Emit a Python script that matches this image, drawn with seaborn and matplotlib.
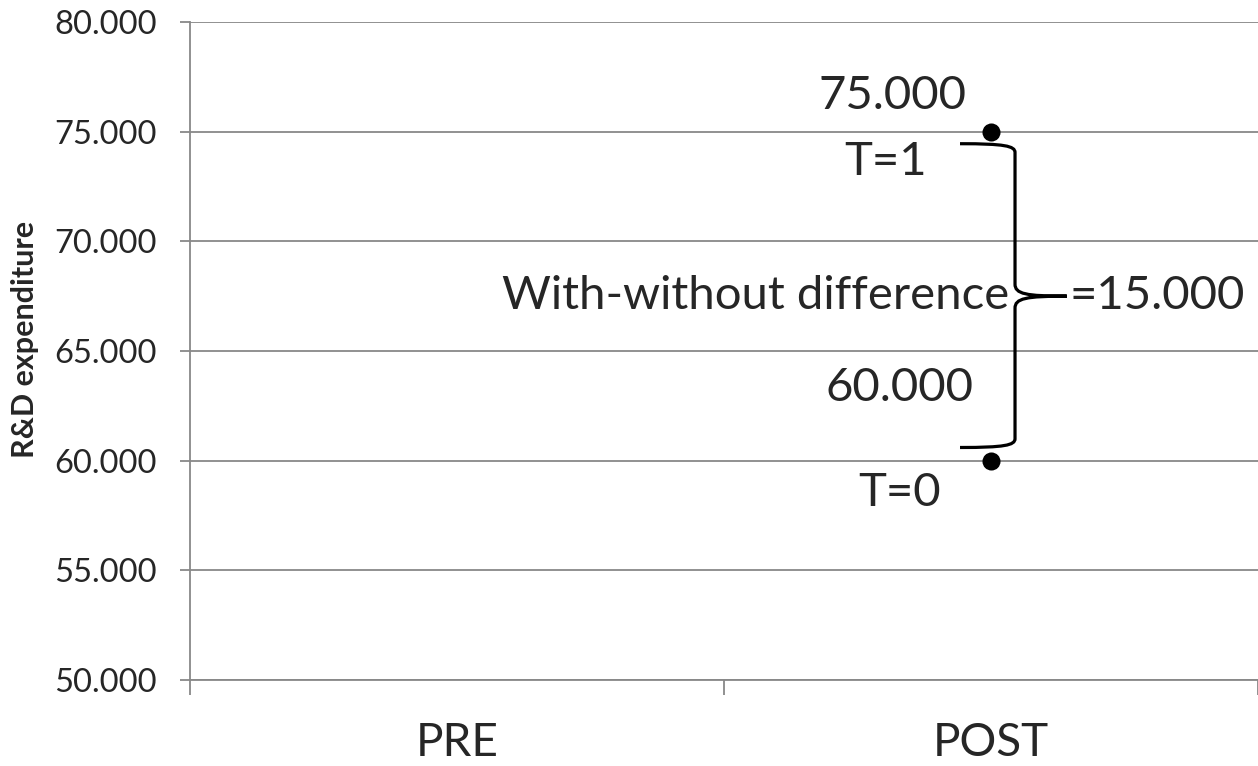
import pandas as pd
import numpy as np
import matplotlib.pyplot as plt
import matplotlib.patches as mpatches
from matplotlib.path import Path
import seaborn as sns

# 数据
periods = ["PRE", "POST"]
groups = ["T=1", "T=0"]
post_values = [75.0, 60.0]
yticks = [50, 55, 60, 65, 70, 75, 80]

df = pd.DataFrame({"period": ["POST", "POST"], "group": groups, "rd": post_values})

sns.set_style("white")
plt.rcParams['font.family'] = ['Lato', 'DejaVu Sans']

fig = plt.figure(figsize=(12.58, 7.66), dpi=100)
ax = fig.add_axes([0.151, 0.1123, 0.849, 0.859])

sns.stripplot(data=df, x="period", y="rd", order=periods, jitter=False,
              color="black", size=13, ax=ax, zorder=5)

grid_col = "#888888"
ax.set_ylim(50, 80)
ax.set_yticks(yticks)
ax.set_yticklabels([f"{v:.3f}" for v in yticks])
ax.set_xlim(-0.5, 1.5)
ax.yaxis.grid(True, color=grid_col, lw=1.3)
ax.xaxis.grid(False)
for s in ["top", "right"]:
    ax.spines[s].set_visible(False)
ax.spines["left"].set_color(grid_col)
ax.spines["bottom"].set_color(grid_col)
ax.spines["left"].set_linewidth(1.3)
ax.spines["bottom"].set_linewidth(1.3)
ax.tick_params(axis="y", left=True, length=7, color=grid_col, width=1.3, labelsize=23.5, pad=17)
ax.tick_params(axis="x", which="major", length=0, labelsize=33, pad=30)
ax.set_xticks([-0.5, 0.5, 1.5], minor=True)
ax.tick_params(axis="x", which="minor", bottom=True, length=11, color=grid_col, width=1.3)
ax.set_xlabel("")
ax.set_ylabel("R&D expenditure", fontsize=22, fontweight="bold")
ax.yaxis.set_label_coords(-0.141, 0.517)

# 数值标注
t1, t0 = post_values
px = periods.index("POST")
fs = 34
ax.annotate(f"{t1:.3f}", (px, t1), xytext=(-98, 36), textcoords="offset pixels",
            ha="center", va="center", fontsize=fs)
ax.annotate(groups[0], (px, t1), xytext=(-105, -30), textcoords="offset pixels",
            ha="center", va="center", fontsize=fs)
ax.annotate(f"{t0:.3f}", (px, t0), xytext=(-91, 73), textcoords="offset pixels",
            ha="center", va="center", fontsize=fs)
ax.annotate(groups[1], (px, t0), xytext=(-91, -32), textcoords="offset pixels",
            ha="center", va="center", fontsize=fs)

# 大括号
mid = (t1 + t0) / 2
x_tip, x_v, x_pt = px - 0.058, px + 0.045, px + 0.142
top_tip, top_v = t1 - 0.55, t1 - 0.95
bot_tip, bot_v = t0 + 0.6, t0 + 1.0
verts = [
    (x_tip, top_tip), (x_v - 0.02, top_tip), (x_v, top_tip - 0.1), (x_v, top_v),
    (x_v, mid + 0.55),
    (x_v, mid + 0.1), (x_v + 0.02, mid), (x_pt, mid),
    (x_v + 0.02, mid), (x_v, mid - 0.1), (x_v, mid - 0.55),
    (x_v, bot_v),
    (x_v, bot_tip + 0.1), (x_v - 0.02, bot_tip), (x_tip, bot_tip),
]
codes = [Path.MOVETO, Path.CURVE4, Path.CURVE4, Path.CURVE4,
         Path.LINETO,
         Path.CURVE4, Path.CURVE4, Path.CURVE4,
         Path.CURVE4, Path.CURVE4, Path.CURVE4,
         Path.LINETO,
         Path.CURVE4, Path.CURVE4, Path.CURVE4]
ax.add_patch(mpatches.PathPatch(Path(verts, codes), fill=False, lw=2.3,
                                edgecolor="black", zorder=4, clip_on=False))

ax.text(x_v - 0.01, mid, "With-without difference", ha="right", va="center", fontsize=fs)
ax.text(x_pt + 0.005, mid, f"={t1 - t0:.3f}", ha="left", va="center", fontsize=fs)

fig.savefig("out.png", dpi=100)
